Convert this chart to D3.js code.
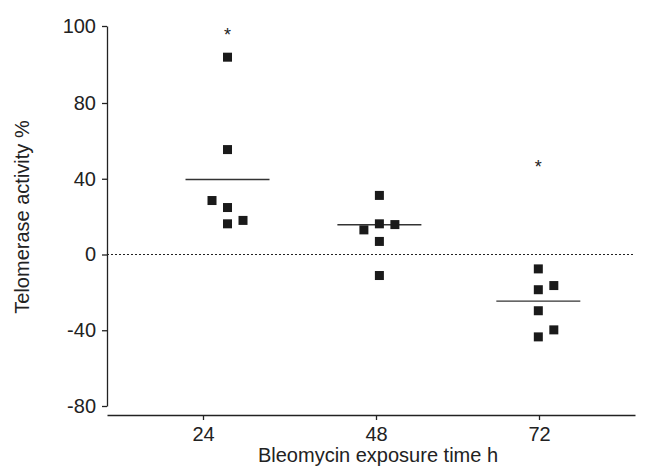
<!DOCTYPE html>
<html>
<head>
<meta charset="utf-8">
<script src="https://cdn.jsdelivr.net/npm/d3@7"></script>
<style>
  body { margin: 0; background: #fff; }
  text { font-family: "Liberation Sans", Arial, sans-serif; fill: #222; }
</style>
</head>
<body>
<svg class="chart"></svg>
<script>
// chart size
var width = 652, height = 468;

// groups (hours of exposure) and where each group was plotted (hours)
var hours = [24, 48, 72];
var groupPos = [27.4, 48.5, 71.9];

// individual points: group index, jitter column (-1,0,1), telomerase %
var ptGroup  = [0, 0, 0, 0, 0, 0,   1, 1, 1, 1, 1, 1,   2, 2, 2, 2, 2, 2];
var ptJitter = [0, 0, -1, 0, 0, 1,  0, -1, 0, 1, 0, 0,  0, 0, 1, 0, 1, 0];
var ptValue  = [91.9, 55.4, 28.5, 24.8, 16.2, 18.0,
                31.2, 13.0, 16.2, 15.8, 6.9, -11.1,
                -7.6, -18.6, -16.4, -29.7, -39.8, -43.5];

// group means and significance markers
var means = [39.6, 15.7, -24.6];
var starValue = [98.7, null, 48.2];

// axis ticks
var yTicks = [-80, -40, 0, 40, 80, 100];

var jitterPx = 15.5;
var sq = 9;
var fontSize = "20px";

var svg = d3.select(".chart")
    .attr("width", width)
    .attr("height", height);

// the printed x axis is not evenly spaced, so use the tick positions as they are
var x = d3.scaleLinear()
    .domain([10, 24, 48, 72, 86])
    .range([107, 203, 376, 539, 635]);

// the printed y axis has a squeezed top segment (80 -> 100)
var y = d3.scaleLinear()
    .domain([-80, 80, 100])
    .range([406, 103, 26]);

// zero reference line
svg.append("line")
    .attr("x1", x(10)).attr("x2", x(86))
    .attr("y1", y(0)).attr("y2", y(0))
    .attr("stroke", "#222")
    .attr("stroke-width", 1.2)
    .attr("stroke-dasharray", "2,2");

function styleAxis(g) {
    g.attr("font-size", fontSize)
     .attr("font-family", "Liberation Sans, Arial, sans-serif");
    g.select(".domain").attr("stroke", "#222").attr("stroke-width", 1.3);
    g.selectAll(".tick line").attr("stroke", "#222").attr("stroke-width", 1.3);
    g.selectAll(".tick text").attr("fill", "#222").style("font-size", fontSize);
}

// y axis
var yAxis = d3.axisLeft(y)
    .tickValues(yTicks)
    .tickSize(5)
    .tickSizeOuter(0)
    .tickPadding(6)
    .tickFormat(function(d) { return String(d); });
svg.append("g")
    .attr("transform", "translate(107,0)")
    .call(yAxis)
    .call(styleAxis);

// x axis
var xAxis = d3.axisBottom(x)
    .tickValues(hours)
    .tickSize(5)
    .tickSizeOuter(0)
    .tickPadding(7)
    .tickFormat(function(d) { return String(d); });
svg.append("g")
    .attr("transform", "translate(0,415)")
    .call(xAxis)
    .call(styleAxis);

// axis titles
svg.append("text")
    .attr("x", 378)
    .attr("y", 462)
    .attr("text-anchor", "middle")
    .style("font-size", fontSize)
    .text("Bleomycin exposure time h");

svg.append("text")
    .attr("transform", "translate(29,217) rotate(-90)")
    .attr("text-anchor", "middle")
    .style("font-size", fontSize)
    .text("Telomerase activity %");

// mean lines
svg.selectAll("line.mean")
    .data(means)
    .enter().append("line")
    .attr("class", "mean")
    .attr("x1", function(d, i) { return x(groupPos[i]) - 42; })
    .attr("x2", function(d, i) { return x(groupPos[i]) + 42; })
    .attr("y1", function(d) { return y(d); })
    .attr("y2", function(d) { return y(d); })
    .attr("stroke", "#333")
    .attr("stroke-width", 1.4);

// points
var points = ptValue.map(function(v, i) {
    return {v: v, g: ptGroup[i], j: ptJitter[i]};
});
svg.selectAll("rect.pt")
    .data(points)
    .enter().append("rect")
    .attr("class", "pt")
    .attr("x", function(d) { return x(groupPos[d.g]) + d.j * jitterPx - sq / 2; })
    .attr("y", function(d) { return y(d.v) - sq / 2; })
    .attr("width", sq)
    .attr("height", sq)
    .attr("fill", "#1a1a1a");

// asterisks
svg.selectAll("text.star")
    .data(starValue.map(function(v, i) { return {v: v, g: i}; })
        .filter(function(d) { return d.v != null; }))
    .enter().append("text")
    .attr("class", "star")
    .attr("x", function(d) { return x(groupPos[d.g]); })
    .attr("y", function(d) { return y(d.v) + 10; })
    .attr("text-anchor", "middle")
    .style("font-size", "18px")
    .text("*");
</script>
</body>
</html>
